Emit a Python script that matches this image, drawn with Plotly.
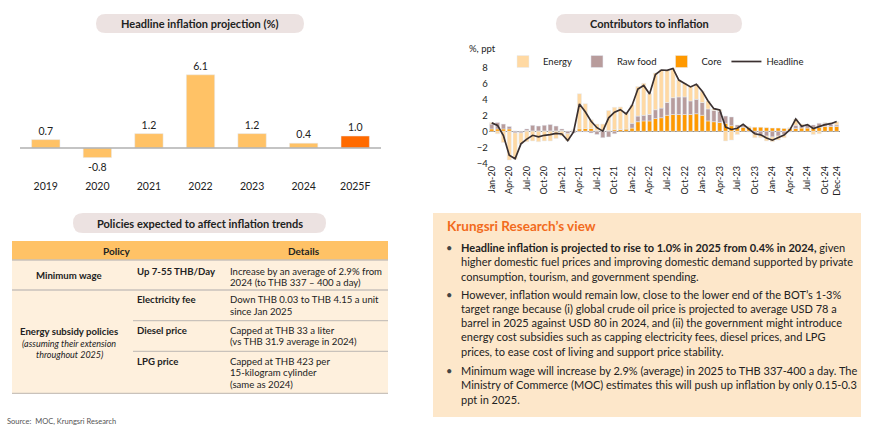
import plotly.graph_objects as go

W, H = 870, 440
def X(p): return p / W
def Y(p): return 1 - p / H

FONT = "Lato"
TXT = "#222222"

# ---------------- Left: headline inflation projection ----------------
years = ["2019", "2020", "2021", "2022", "2023", "2024", "2025F"]
headline_annual = [0.7, -0.8, 1.2, 6.1, 1.2, 0.4, 1.0]
annual_colors = ["#ffc266", "#ffc266", "#ffc266", "#ffc266", "#ffc266", "#ffc266", "#ff6a00"]

# ---------------- Right: contributors to inflation (monthly, ppt) ----------------
months = [f"{m}-{y}" for y in ["20", "21", "22", "23", "24"]
          for m in ["Jan", "Feb", "Mar", "Apr", "May", "Jun", "Jul", "Aug", "Sep", "Oct", "Nov", "Dec"]]
core = [0.3, 0.3, 0.3, 0.3, 0.05, 0.0, 0.1, 0.05, 0.05, 0.05, 0.05, 0.05,
        0.1, 0.0, 0.1, 0.3, 0.35, 0.35, 0.1, 0.1, 0.1, 0.2, 0.25, 0.3,
        0.4, 1.2, 1.3, 1.3, 1.6, 1.7, 2.0, 2.1, 2.1, 2.1, 2.1, 2.2,
        2.0, 1.3, 1.2, 1.1, 1.0, 0.7, 0.5, 0.5, 0.5, 0.5, 0.5, 0.45,
        0.4, 0.4, 0.35, 0.35, 0.35, 0.4, 0.4, 0.5, 0.5, 0.6, 0.6, 0.6]
raw_food = [0.6, 0.8, 0.6, 0.3, -0.2, -0.2, 0.2, 0.7, 0.6, 0.7, 0.8, 0.6,
            0.2, -0.3, -0.2, -0.1, -0.1, -0.2, -0.4, -0.8, -0.7, -0.3, 0.0, 0.0,
            0.6, 0.7, 0.7, 0.8, 1.1, 1.2, 1.6, 2.1, 2.2, 2.2, 1.7, 1.8,
            1.6, 1.5, 1.4, 1.4, 0.9, 1.1, 0.3, 0.2, -0.1, -0.3, -0.5, -0.6,
            -0.7, -0.6, -0.4, -0.1, 0.4, 0.3, 0.4, 0.3, 0.5, 0.4, 0.3, 0.2]
energy = [0.2, -0.3, -1.4, -3.6, -3.3, -1.4, -1.3, -1.2, -1.3, -1.2, -1.2, -0.9,
          -0.6, -0.9, 0.1, 4.4, 3.1, 1.1, 0.8, 0.8, 2.5, 2.8, 2.8, 2.0,
          2.3, 3.7, 4.0, 2.6, 4.6, 4.8, 4.0, 3.7, 2.1, 1.7, 1.8, 1.9,
          1.4, 1.0, 0.2, 0.2, -1.2, -1.1, -0.4, 0.1, 0.1, -0.5, -0.3, -0.6,
          -0.6, -0.5, -0.4, 0.1, 0.8, 0.2, 0.1, -0.4, -0.3, 0.1, 0.2, 0.4]
headline = [1.05, 0.74, -0.54, -2.99, -3.44, -1.57, -0.98, -0.50, -0.70, -0.50, -0.41, -0.27,
            -0.34, -1.17, -0.08, 3.41, 2.44, 1.25, 0.45, 0.02, 1.68, 2.38, 2.71, 2.17,
            3.23, 5.28, 5.73, 4.65, 7.10, 7.66, 7.61, 7.86, 6.41, 5.98, 5.55, 5.89,
            5.02, 3.79, 2.83, 2.67, 0.53, 0.23, 0.38, 0.88, 0.30, -0.31, -0.44, -0.83,
            -1.11, -0.77, -0.47, 0.19, 1.54, 0.62, 0.83, 0.35, 0.61, 0.83, 0.95, 1.23]
month_ticks = ["Jan-20", "Apr-20", "Jul-20", "Oct-20", "Jan-21", "Apr-21", "Jul-21", "Oct-21",
               "Jan-22", "Apr-22", "Jul-22", "Oct-22", "Jan-23", "Apr-23", "Jul-23", "Oct-23",
               "Jan-24", "Apr-24", "Jul-24", "Oct-24", "Dec-24"]
y_ticks = [-4, -2, 0, 2, 4, 6, 8]

# ---------------- Table ----------------
table_header = ["Policy", "Details"]
table_groups = ["Minimum wage", "Energy subsidy policies"]
table_group_note = ["(assuming their extension", "throughout 2025)"]
table_items = ["Up 7-55 THB/Day", "Electricity fee", "Diesel price", "LPG price"]
table_details = [
    ["Increase by an average of 2.9% from", "2024 (to THB 337 \u2013 400 a day)"],
    ["Down THB 0.03 to THB 4.15 a unit", "since Jan 2025"],
    ["Capped at THB 33 a liter", "(vs THB 31.9 average in 2024)"],
    ["Capped at THB 423 per", "15-kilogram cylinder", "(same as 2024)"],
]

# ---------------- View box ----------------
view_title = "Krungsri Research\u2019s view"
bullets = [
    ["<b>Headline inflation is projected to rise to 1.0% in 2025 from 0.4% in 2024,</b> given",
     "higher domestic fuel prices and improving domestic demand supported by private",
     "consumption, tourism, and government spending."],
    ["However, inflation would remain low, close to the lower end of the BOT\u2019s 1-3%",
     "target range because (i) global crude oil price is projected to average USD 78 a",
     "barrel in 2025 against USD 80 in 2024, and (ii) the government might introduce",
     "energy cost subsidies such as capping electricity fees, diesel prices, and LPG",
     "prices, to ease cost of living and support price stability."],
    ["Minimum wage will increase by 2.9% (average) in 2025 to THB 337-400 a day. The",
     "Ministry of Commerce (MOC) estimates this will push up inflation by only 0.15-0.3",
     "ppt in 2025."],
]
source = "Source:  MOC, Krungsri Research"

fig = go.Figure()

# left bars
fig.add_trace(go.Bar(
    x=years, y=headline_annual, marker_color=annual_colors, width=0.55,
    text=[f"{v:.1f}" for v in headline_annual], textposition="outside",
    textfont=dict(size=10.5, color=TXT, family=FONT), cliponaxis=False,
    showlegend=False, xaxis="x", yaxis="y", hoverinfo="skip"))

# right stacked bars
fig.add_trace(go.Bar(x=months, y=core, name="Core", marker_color="#ff9900",
                     xaxis="x2", yaxis="y2", legendrank=3))
fig.add_trace(go.Bar(x=months, y=raw_food, name="Raw food", marker_color="#b89c9c",
                     xaxis="x2", yaxis="y2", legendrank=2))
fig.add_trace(go.Bar(x=months, y=energy, name="Energy", marker_color="#ffd9a3",
                     xaxis="x2", yaxis="y2", legendrank=1))
fig.add_trace(go.Scatter(x=months, y=headline, name="Headline", mode="lines",
                         line=dict(color="#3a3030", width=1.7),
                         xaxis="x2", yaxis="y2", legendrank=4))

shapes = []
annotations = []

def pill(x0, x1, y0, y1, color="#ece2e1"):
    r = (y1 - y0) / 2
    path = (f"M {X(x0 + r)},{Y(y0)} L {X(x1 - r)},{Y(y0)} "
            f"Q {X(x1)},{Y(y0)} {X(x1)},{Y(y0 + r)} Q {X(x1)},{Y(y1)} {X(x1 - r)},{Y(y1)} "
            f"L {X(x0 + r)},{Y(y1)} Q {X(x0)},{Y(y1)} {X(x0)},{Y(y0 + r)} "
            f"Q {X(x0)},{Y(y0)} {X(x0 + r)},{Y(y0)} Z")
    shapes.append(dict(type="path", path=path, xref="paper", yref="paper",
                       fillcolor=color, line=dict(width=0), layer="below"))

def text(x, y, s, size=10.5, color=TXT, xanchor="left", bold=False, italic=False):
    if bold:
        s = f"<b>{s}</b>"
    if italic:
        s = f"<i>{s}</i>"
    annotations.append(dict(x=X(x), y=Y(y), xref="paper", yref="paper", text=s,
                            showarrow=False, xanchor=xanchor, yanchor="middle",
                            font=dict(size=size, color=color, family=FONT)))

# pills
pill(96, 304, 14, 33)
text(200, 23.5, "Headline inflation projection (%)", size=11, xanchor="center", bold=True)
pill(556, 742, 14, 33)
text(649, 23.5, "Contributors to inflation", size=11, xanchor="center", bold=True)
pill(73, 326, 213, 233)
text(200, 223, "Policies expected to affect inflation trends", size=11, xanchor="center", bold=True)

# table
TL, TR = 12, 388
shapes.append(dict(type="rect", xref="paper", yref="paper", x0=X(TL), x1=X(TR), y0=Y(241), y1=Y(260),
                   fillcolor="#ffc266", line=dict(width=0), layer="below"))
shapes.append(dict(type="rect", xref="paper", yref="paper", x0=X(TL), x1=X(TR), y0=Y(260), y1=Y(393.5),
                   fillcolor="#fef0dd", line=dict(width=0), layer="below"))
for (x0, yy) in [(TL, 260), (TL, 290), (133, 320.7), (133, 351.3), (TL, 393.3)]:
    shapes.append(dict(type="line", xref="paper", yref="paper", x0=X(x0), x1=X(TR), y0=Y(yy), y1=Y(yy),
                       line=dict(color="#c9c2bb", width=1.3)))
text(117, 251, table_header[0], size=10, xanchor="center", bold=True)
text(304, 251, table_header[1], size=10, xanchor="center", bold=True)
text(69, 275.5, table_groups[0], size=9.6, xanchor="center", bold=True)
text(69, 331.5, table_groups[1], size=9.6, xanchor="center", bold=True)
text(69, 343, table_group_note[0], size=9, xanchor="center", italic=True)
text(69, 354.5, table_group_note[1], size=9, xanchor="center", italic=True)
item_y = [271, 299.5, 330, 361]
for it, yy, det in zip(table_items, item_y, table_details):
    text(135, yy, it, size=9.6, bold=True)
    for k, line in enumerate(det):
        text(228, yy + k * 11.8, line, size=9.6)

text(5, 421, source, size=7.5, color="#555555")

# view box
shapes.append(dict(type="rect", xref="paper", yref="paper", x0=X(433), x1=X(861), y0=Y(213), y1=Y(417),
                   fillcolor="#fde7ca", line=dict(width=0), layer="below"))
text(445, 226, view_title, size=13.5, color="#f26b1d", bold=True)
starts = [247.7, 294.3, 370.7]
for b, y0 in zip(bullets, starts):
    text(449, y0, "\u2022", size=11, color="#444444", xanchor="center")
    for k, line in enumerate(b):
        text(459, y0 + k * 14.2, line, size=11)

# "%, ppt"
text(467, 49, "%, ppt", size=9.5)

fig.update_layout(
    width=W, height=H, margin=dict(l=0, r=0, t=0, b=0, autoexpand=False),
    paper_bgcolor="white", plot_bgcolor="white",
    barmode="relative", bargap=0.28,
    font=dict(family=FONT, color=TXT),
    shapes=shapes, annotations=annotations,
    xaxis=dict(domain=[X(20), X(381)], showline=False, ticks="", showgrid=False, automargin=False,
               tickfont=dict(size=10.5, color=TXT), fixedrange=True),
    yaxis=dict(domain=[Y(178), Y(64)], range=[-2.5, 7], visible=False, zeroline=False,
               fixedrange=True, automargin=False),
    xaxis2=dict(domain=[X(488.8), X(839.6)], anchor="y2", showgrid=False, ticks="", automargin=False,
                tickmode="array", tickvals=month_ticks, ticktext=month_ticks, tickangle=-90,
                tickfont=dict(size=9, color=TXT), range=[-0.5, 59.5]),
    yaxis2=dict(domain=[Y(163.3), Y(64.9)], anchor="x2", range=[-4, 8.3], showgrid=False,
                zeroline=True, zerolinecolor="#8c8c8c", zerolinewidth=1, automargin=False,
                tickvals=y_ticks, tickfont=dict(size=9.5, color=TXT), ticks=""),
    legend=dict(orientation="h", x=X(503), y=Y(47), xanchor="left", yanchor="top",
                font=dict(size=9.5, color=TXT), itemwidth=30, entrywidth=0,
                bgcolor="rgba(0,0,0,0)", traceorder="normal"),
)
# zero line left chart
fig.add_shape(type="line", xref="paper", yref="y", x0=X(20), x1=X(381), y0=0, y1=0,
              line=dict(color="#b0b0b0", width=1.5), layer="above")

fig.write_html("out.html", config={"displayModeBar": False},
               post_script="document.body.style.margin='0px';")
